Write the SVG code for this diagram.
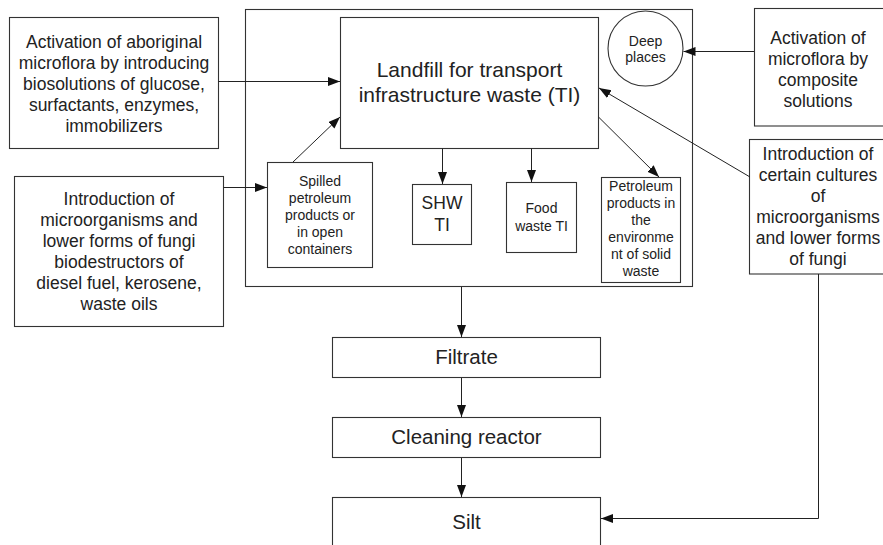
<svg xmlns="http://www.w3.org/2000/svg" width="883" height="545" viewBox="0 0 883 545">
<style>
.box{fill:#fff;stroke:#333;stroke-width:1.1}
.ln{fill:none;stroke:#222;stroke-width:1}
text{font-family:"Liberation Sans",Arial,sans-serif;fill:#222;text-anchor:middle}
.t16{font-size:17.5px}
.t14{font-size:14px}
.t17{font-size:17.5px}
.t20{font-size:20.5px}
.t21{font-size:21px}
</style>
<defs>
<marker id="ah" markerUnits="userSpaceOnUse" markerWidth="13" markerHeight="10" refX="12" refY="4.5" orient="auto">
<path d="M0,0 L12,4.5 L0,9 z" fill="#111"/>
</marker>
</defs>
<rect width="883" height="545" fill="#fff"/>
<g id="outer"><rect class="box" x="245.5" y="9.5" width="447" height="277" fill="none"/></g>
<g id="aboriginal">
<rect class="box" x="9.5" y="17.5" width="209" height="131"/>
<text class="t16" x="114" y="48">Activation of aboriginal</text>
<text class="t16" x="114" y="69">microflora by introducing</text>
<text class="t16" x="114" y="90">biosolutions of glucose,</text>
<text class="t16" x="114" y="111">surfactants, enzymes,</text>
<text class="t16" x="114" y="132">immobilizers</text>
</g>
<g id="landfill">
<rect class="box" x="340.5" y="17.5" width="258" height="131"/>
<text class="t21" x="469.5" y="77">Landfill for transport</text>
<text class="t21" x="469.5" y="102">infrastructure waste (TI)</text>
</g>
<g id="deep">
<circle class="box" cx="645.5" cy="48.5" r="37.5"/>
<text class="t14" x="645.5" y="46">Deep</text>
<text class="t14" x="645.5" y="62">places</text>
</g>
<g id="composite">
<rect class="box" x="754.5" y="8.5" width="140" height="117.5"/>
<text class="t16" x="818" y="44">Activation of</text>
<text class="t16" x="818" y="65">microflora by</text>
<text class="t16" x="818" y="86">composite</text>
<text class="t16" x="818" y="107">solutions</text>
</g>
<g id="cultures">
<rect class="box" x="749.5" y="139.5" width="145" height="134.5"/>
<text class="t16" x="818" y="160">Introduction of</text>
<text class="t16" x="818" y="181">certain cultures</text>
<text class="t16" x="818" y="202">of</text>
<text class="t16" x="818" y="223">microorganisms</text>
<text class="t16" x="818" y="244">and lower forms</text>
<text class="t16" x="818" y="265">of fungi</text>
</g>
<g id="biodestructors">
<rect class="box" x="14.5" y="176.5" width="209" height="150"/>
<text class="t16" x="119" y="205">Introduction of</text>
<text class="t16" x="119" y="226">microorganisms and</text>
<text class="t16" x="119" y="247">lower forms of fungi</text>
<text class="t16" x="119" y="268">biodestructors of</text>
<text class="t16" x="119" y="289">diesel fuel, kerosene,</text>
<text class="t16" x="119" y="310">waste oils</text>
</g>
<g id="spilled">
<rect class="box" x="267.5" y="162.5" width="105" height="105"/>
<text class="t14" x="320" y="186">Spilled</text>
<text class="t14" x="320" y="203">petroleum</text>
<text class="t14" x="320" y="220">products or</text>
<text class="t14" x="320" y="237">in open</text>
<text class="t14" x="320" y="254">containers</text>
</g>
<g id="shw">
<rect class="box" x="412.5" y="184.5" width="59" height="60"/>
<text class="t17" x="442" y="209">SHW</text>
<text class="t17" x="442" y="231">TI</text>
</g>
<g id="food">
<rect class="box" x="506.5" y="182.5" width="70" height="70"/>
<text class="t14" x="541.5" y="213">Food</text>
<text class="t14" x="541.5" y="231">waste TI</text>
</g>
<g id="petroleum">
<rect class="box" x="601.5" y="177.5" width="79" height="105"/>
<text class="t14" x="641" y="191">Petroleum</text>
<text class="t14" x="641" y="208">products in</text>
<text class="t14" x="641" y="225">the</text>
<text class="t14" x="641" y="242">environme</text>
<text class="t14" x="641" y="259">nt of solid</text>
<text class="t14" x="641" y="276">waste</text>
</g>
<g id="filtrate">
<rect class="box" x="332.5" y="337.5" width="268" height="40"/>
<text class="t20" x="466.5" y="364">Filtrate</text>
</g>
<g id="reactor">
<rect class="box" x="332.5" y="417.5" width="268" height="40"/>
<text class="t20" x="466.5" y="444">Cleaning reactor</text>
</g>
<g id="silt">
<rect class="box" x="332.5" y="497.5" width="268" height="60"/>
<text class="t20" x="466.5" y="529">Silt</text>
</g>
<g id="connectors">
<line class="ln" x1="218.5" y1="81.5" x2="340" y2="81.5" marker-end="url(#ah)"/>
<line class="ln" x1="754" y1="51.5" x2="683.5" y2="51.5" marker-end="url(#ah)"/>
<line class="ln" x1="223.5" y1="187.5" x2="267" y2="187.5" marker-end="url(#ah)"/>
<line class="ln" x1="293" y1="162" x2="340" y2="117" marker-end="url(#ah)"/>
<line class="ln" x1="442.5" y1="148.5" x2="442.5" y2="184" marker-end="url(#ah)"/>
<line class="ln" x1="531.5" y1="148.5" x2="531.5" y2="182" marker-end="url(#ah)"/>
<line class="ln" x1="598.5" y1="117" x2="659" y2="177" marker-end="url(#ah)"/>
<line class="ln" x1="750" y1="177" x2="599" y2="88" marker-end="url(#ah)"/>
<line class="ln" x1="461.5" y1="287" x2="461.5" y2="337" marker-end="url(#ah)"/>
<line class="ln" x1="461.5" y1="378" x2="461.5" y2="417" marker-end="url(#ah)"/>
<line class="ln" x1="461.5" y1="458" x2="461.5" y2="497" marker-end="url(#ah)"/>
<polyline class="ln" points="818.5,274 818.5,518.5 601,518.5" marker-end="url(#ah)"/>
</g>
</svg>
